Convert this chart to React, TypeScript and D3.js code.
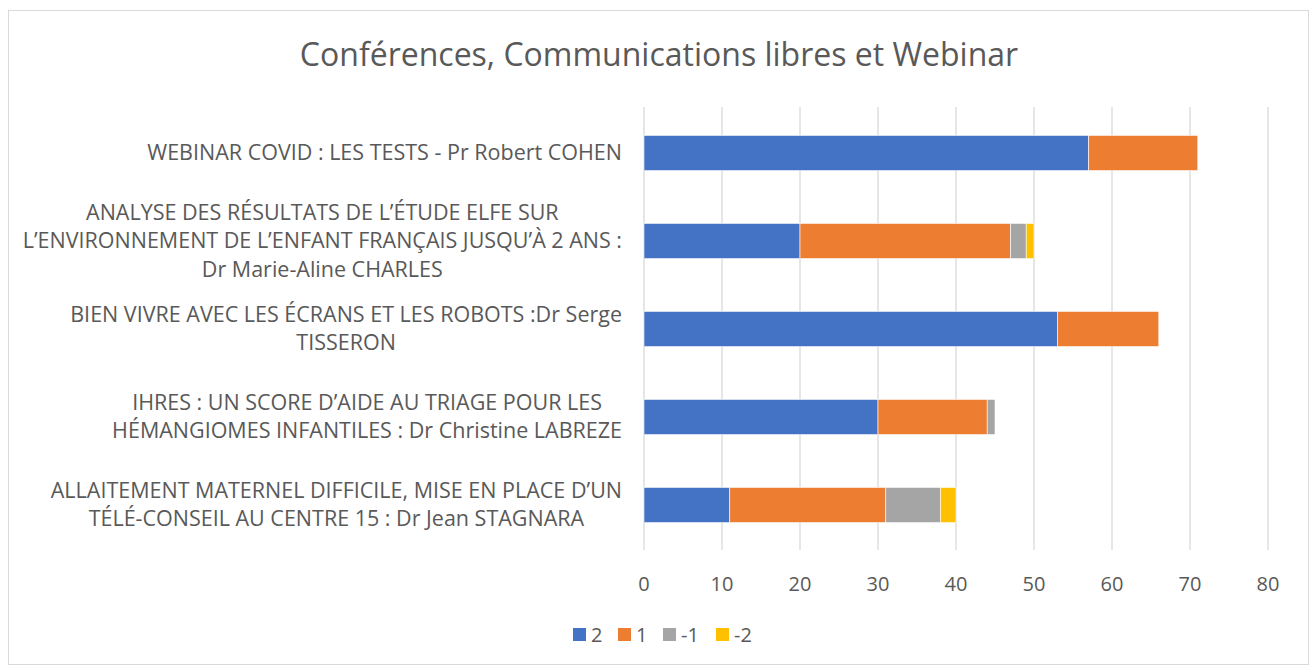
import React, { useEffect, useRef } from 'react';
import * as d3 from 'd3';

// catégories (une ligne par élément, comme dans le graphique d'origine)
const categories: string[][] = [
  ['WEBINAR COVID : LES TESTS - Pr Robert COHEN'],
  [
    'ANALYSE DES RÉSULTATS DE L’ÉTUDE ELFE SUR',
    'L’ENVIRONNEMENT DE L’ENFANT FRANÇAIS JUSQU’À 2 ANS :',
    'Dr Marie-Aline CHARLES',
  ],
  ['BIEN VIVRE AVEC LES ÉCRANS ET LES ROBOTS :Dr Serge', 'TISSERON'],
  ['IHRES : UN SCORE D’AIDE AU TRIAGE POUR LES', 'HÉMANGIOMES INFANTILES : Dr Christine LABREZE'],
  ['ALLAITEMENT MATERNEL DIFFICILE, MISE EN PLACE D’UN', 'TÉLÉ-CONSEIL AU CENTRE 15 : Dr Jean STAGNARA'],
];

const seriesNames = ['2', '1', '-1', '-2'];
const values2 = [57, 20, 53, 30, 11];
const values1 = [14, 27, 13, 14, 20];
const valuesM1 = [0, 2, 0, 1, 7];
const valuesM2 = [0, 1, 0, 0, 2];
const xTicks = [0, 10, 20, 30, 40, 50, 60, 70, 80];
const colors = ['#4472C4', '#ED7D31', '#A5A5A5', '#FFC000'];

const title = 'Conférences, Communications libres et Webinar';

const W = 1310;
const H = 666;
const FONT = '"Open Sans", "Noto Sans", sans-serif';
const TEXT = '#595959';

const App = () => {
  const svgRef = useRef<SVGSVGElement>(null);

  useEffect(() => {
    const svg = d3.select(svgRef.current);
    svg.selectAll('*').remove();

    const rows = categories.map((c, i) => ({
      idx: i,
      '2': values2[i],
      '1': values1[i],
      '-1': valuesM1[i],
      '-2': valuesM2[i],
    }));

    const x = d3.scaleLinear().domain([0, 80]).range([644, 1268]);
    const y = d3
      .scaleBand<number>()
      .domain(rows.map(r => r.idx))
      .range([109, 549])
      .paddingInner(0.6)
      .paddingOuter(0.3);

    // cadre
    svg.append('rect')
      .attr('x', 8.5).attr('y', 10.5)
      .attr('width', 1300).attr('height', 654)
      .attr('fill', '#fff')
      .attr('stroke', '#D9D9D9');

    // titre
    svg.append('text')
      .attr('x', 659).attr('y', 66)
      .attr('text-anchor', 'middle')
      .style('font-family', FONT)
      .style('font-size', '32px')
      .attr('fill', TEXT)
      .text(title);

    // grille
    svg.append('g')
      .selectAll('line')
      .data(xTicks)
      .join('line')
      .attr('x1', d => x(d)).attr('x2', d => x(d))
      .attr('y1', 107).attr('y2', 550)
      .attr('stroke', '#D9D9D9')
      .attr('stroke-width', 1.3);

    // graduations
    svg.append('g')
      .selectAll('text')
      .data(xTicks)
      .join('text')
      .attr('x', d => x(d))
      .attr('y', 591)
      .attr('text-anchor', 'middle')
      .style('font-family', FONT)
      .style('font-size', '20px')
      .attr('fill', TEXT)
      .text(d => d);

    // barres empilées
    const stacked = d3.stack<any>().keys(seriesNames)(rows);
    svg.append('g')
      .selectAll('g')
      .data(stacked)
      .join('g')
      .attr('fill', (d, i) => colors[i])
      .selectAll('rect')
      .data(d => d.filter(s => s[1] - s[0] > 0))
      .join('rect')
      .attr('x', d => x(d[0]))
      .attr('width', d => x(d[1]) - x(d[0]))
      .attr('y', d => y(d.data.idx)!)
      .attr('height', y.bandwidth())
      .attr('stroke', '#fff')
      .attr('stroke-width', 0.6);

    // étiquettes des catégories
    const lineH = 28.5;
    const labels = svg.append('g');
    rows.forEach(r => {
      const lines = categories[r.idx];
      const cy = y(r.idx)! + y.bandwidth() / 2;
      const g = labels.append('g');
      const texts = g.selectAll('text')
        .data(lines)
        .join('text')
        .attr('y', (d, j) => cy + (j - (lines.length - 1) / 2) * lineH + 7)
        .attr('text-anchor', 'middle')
        .style('font-family', FONT)
        .style('font-size', '21.5px')
        .attr('fill', TEXT)
        .text(d => d);
      let maxW = 0;
      texts.each(function () {
        maxW = Math.max(maxW, (this as SVGTextElement).getComputedTextLength());
      });
      texts.attr('x', 622 - maxW / 2);
    });

    // légende
    const legend = svg.append('g');
    const legendX = [573, 618, 663, 716];
    seriesNames.forEach((name, i) => {
      legend.append('rect')
        .attr('x', legendX[i]).attr('y', 628)
        .attr('width', 13).attr('height', 13)
        .attr('fill', colors[i]);
      legend.append('text')
        .attr('x', legendX[i] + 18).attr('y', 642)
        .style('font-family', FONT)
        .style('font-size', '20px')
        .attr('fill', TEXT)
        .text(name);
    });
  }, []);

  return (
    <svg
      ref={svgRef}
      width={W}
      height={H}
      style={{ position: 'absolute', left: 0, top: 0, background: '#fff' }}
    />
  );
};

export default App;
